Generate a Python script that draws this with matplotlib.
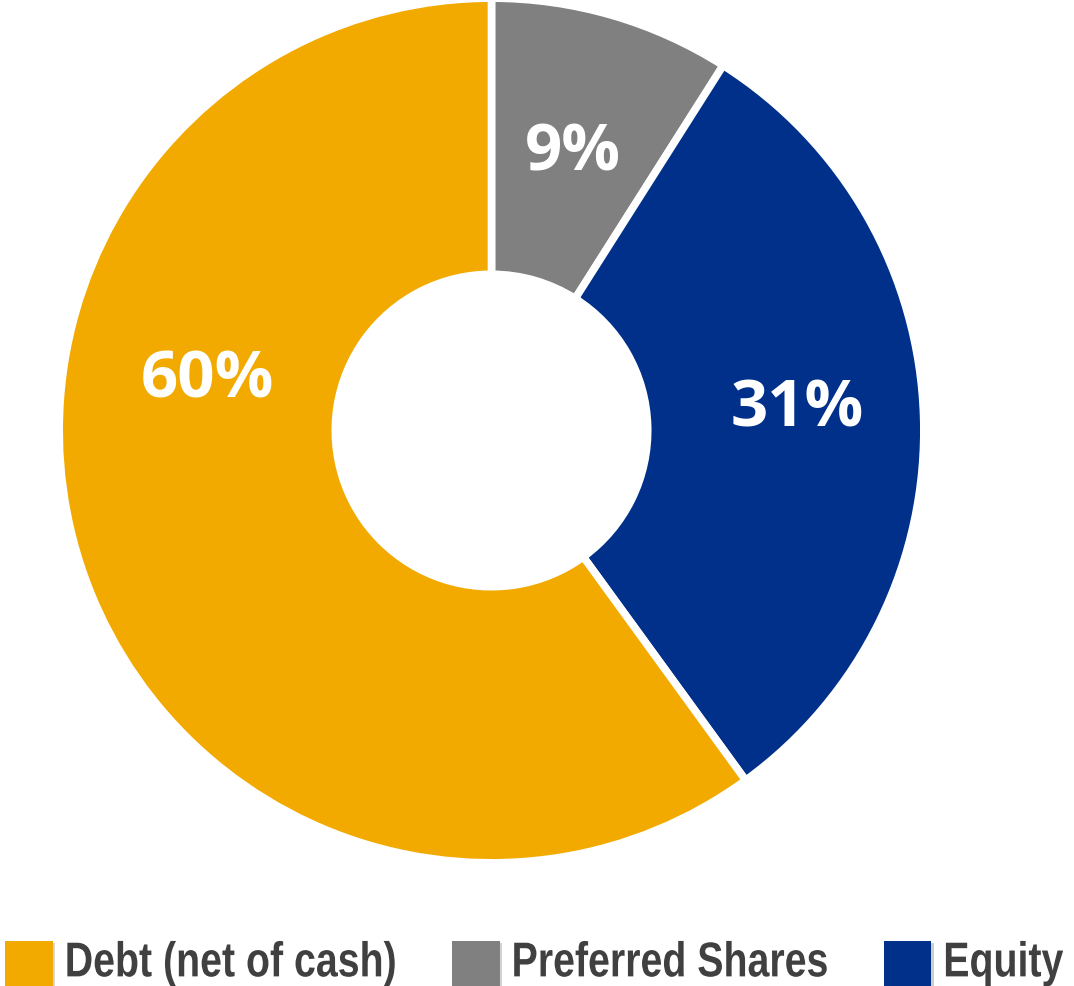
import matplotlib
matplotlib.use("Agg")
import matplotlib.pyplot as plt
import matplotlib.patheffects as pe
from matplotlib.transforms import Affine2D
import numpy as np

# capital structure split
labels = ["Debt (net of cash)", "Preferred Shares", "Equity"]
shares = [60, 9, 31]
colors = ["#F2AA00", "#808080", "#00308A"]


class Stretch(pe.AbstractPathEffect):
    """Draw text taller than its nominal size, giving a narrow-face look."""

    def __init__(self, sy):
        super().__init__()
        self._sy = sy

    def draw_path(self, renderer, gc, tpath, affine, rgbFace=None):
        renderer.draw_path(gc, tpath, Affine2D().scale(1, self._sy) + affine, rgbFace)


fig = plt.figure(figsize=(10.74, 9.87), dpi=100)
ax = fig.add_axes([63 / 1074, 127 / 987, 857 / 1074, 857 / 987])

# preferred -> equity -> debt, clockwise from 12 o'clock
order = [1, 2, 0]
wedges, _, pcts = ax.pie(
    [shares[i] for i in order],
    colors=[colors[i] for i in order],
    startangle=90, counterclock=False, radius=1.009,
    autopct="%d%%", pctdistance=0.69,
    wedgeprops=dict(width=0.6445, edgecolor="white", linewidth=5.5),
    textprops=dict(color="white", fontsize=47, fontweight="bold",
                   family=["Open Sans", "DejaVu Sans"]),
)
ax.set_xlim(-1, 1)
ax.set_ylim(-1, 1)
ax.set_aspect("auto")
ax.axis("off")

# label anchor (angle deg, radius) for preferred, equity, debt
label_pos = [(74, 0.685), (5, 0.715), (169, 0.675)]
for t, (a, r) in zip(pcts, label_pos):
    a = np.deg2rad(a)
    t.set_position((r * np.cos(a), r * np.sin(a) - 0.012))

handles = [wedges[order.index(i)] for i in range(3)]
leg = fig.legend(handles, labels, ncol=3, loc="lower left",
                 bbox_to_anchor=(5 / 1074, 0.0), frameon=False,
                 handlelength=1.22, handleheight=1.4, handletextpad=0.3,
                 columnspacing=1.43, borderpad=0, borderaxespad=0,
                 prop=dict(family=["Liberation Sans", "DejaVu Sans"],
                           weight="bold", size=28.3))
for t in leg.get_texts():
    t.set_color("#404040")
    t.set_path_effects([Stretch(1.244)])
for h in leg.legend_handles:
    h.set_edgecolor("none")
    h.set_linewidth(0)
    h.set_path_effects([pe.SimplePatchShadow(offset=(1.5, -1.5), alpha=0.2), pe.Normal()])

fig.savefig("out.png", dpi=100, facecolor="white")
